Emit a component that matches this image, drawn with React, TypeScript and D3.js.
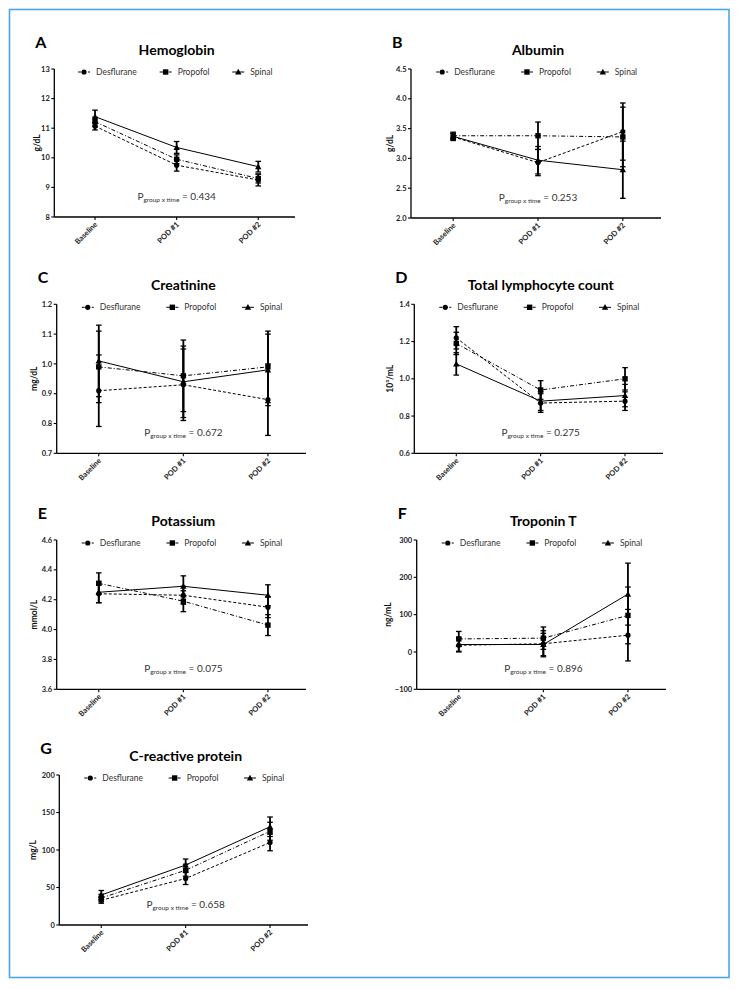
import React from "react";
import * as d3 from "d3";

const categories = ["Baseline", "POD #1", "POD #2"];
const groups = ["Desflurane", "Propofol", "Spinal"];

// Hemoglobin
const hgbDes = [11.07, 9.75, 9.25];
const hgbDesSd = [0.13, 0.2, 0.2];
const hgbPro = [11.22, 9.95, 9.3];
const hgbProSd = [0.15, 0.15, 0.15];
const hgbSpi = [11.39, 10.35, 9.7];
const hgbSpiSd = [0.22, 0.2, 0.18];
const hgbTicks = [8, 9, 10, 11, 12, 13];

// Albumin
const albDes = [3.36, 2.93, 3.45];
const albDesSd = [0.06, 0.22, 0.48];
const albPro = [3.38, 3.38, 3.36];
const albProSd = [0.06, 0.23, 0.5];
const albSpi = [3.37, 2.97, 2.81];
const albSpiSd = [0.05, 0.23, 0.48];
const albTicks = [2.0, 2.5, 3.0, 3.5, 4.0, 4.5];

// Creatinine
const creDes = [0.91, 0.93, 0.88];
const creDesSd = [0.12, 0.12, 0.12];
const crePro = [0.99, 0.96, 0.99];
const creProSd = [0.12, 0.12, 0.12];
const creSpi = [1.01, 0.94, 0.98];
const creSpiSd = [0.12, 0.12, 0.12];
const creTicks = [0.7, 0.8, 0.9, 1.0, 1.1, 1.2];

// Total lymphocyte count
const lymDes = [1.22, 0.87, 0.88];
const lymDesSd = [0.06, 0.05, 0.05];
const lymPro = [1.19, 0.94, 1.0];
const lymProSd = [0.06, 0.05, 0.06];
const lymSpi = [1.08, 0.88, 0.91];
const lymSpiSd = [0.06, 0.05, 0.06];
const lymTicks = [0.6, 0.8, 1.0, 1.2, 1.4];

// Potassium
const potDes = [4.24, 4.23, 4.15];
const potDesSd = [0.06, 0.06, 0.07];
const potPro = [4.31, 4.19, 4.03];
const potProSd = [0.07, 0.07, 0.07];
const potSpi = [4.25, 4.29, 4.23];
const potSpiSd = [0.07, 0.07, 0.07];
const potTicks = [3.6, 3.8, 4.0, 4.2, 4.4, 4.6];

// Troponin T
const troDes = [18, 22, 45];
const troDesSd = [18, 35, 69];
const troPro = [35, 37, 98];
const troProSd = [20, 30, 76];
const troSpi = [20, 20, 155];
const troSpiSd = [18, 30, 83];
const troTicks = [-100, 0, 100, 200, 300];

// C-reactive protein
const crpDes = [33, 62, 110];
const crpDesSd = [4, 8, 11];
const crpPro = [36, 73, 125];
const crpProSd = [5, 8, 12];
const crpSpi = [40, 80, 131];
const crpSpiSd = [6, 8, 13];
const crpTicks = [0, 50, 100, 150, 200];

const panels = [
  { letter: "A", title: "Hemoglobin", ylabel: "g/dL", p: "0.434", ticks: hgbTicks, fmt: "d",
    series: [[hgbDes, hgbDesSd], [hgbPro, hgbProSd], [hgbSpi, hgbSpiSd]] },
  { letter: "B", title: "Albumin", ylabel: "g/dL", p: "0.253", ticks: albTicks, fmt: ".1f",
    series: [[albDes, albDesSd], [albPro, albProSd], [albSpi, albSpiSd]] },
  { letter: "C", title: "Creatinine", ylabel: "mg/dL", p: "0.672", ticks: creTicks, fmt: ".1f",
    series: [[creDes, creDesSd], [crePro, creProSd], [creSpi, creSpiSd]] },
  { letter: "D", title: "Total lymphocyte count", ylabel: "10³/mL", p: "0.275", ticks: lymTicks, fmt: ".1f",
    series: [[lymDes, lymDesSd], [lymPro, lymProSd], [lymSpi, lymSpiSd]] },
  { letter: "E", title: "Potassium", ylabel: "mmol/L", p: "0.075", ticks: potTicks, fmt: ".1f",
    series: [[potDes, potDesSd], [potPro, potProSd], [potSpi, potSpiSd]] },
  { letter: "F", title: "Troponin T", ylabel: "ng/mL", p: "0.896", ticks: troTicks, fmt: "d",
    series: [[troDes, troDesSd], [troPro, troProSd], [troSpi, troSpiSd]] },
  { letter: "G", title: "C-reactive protein", ylabel: "mg/L", p: "0.658", ticks: crpTicks, fmt: "d",
    series: [[crpDes, crpDesSd], [crpPro, crpProSd], [crpSpi, crpSpiSd]] },
];

// layout (pixel frames for each panel)
const frames = [
  { x0: 54.3, x1: 295, yTop: 69, yBot: 217, labDx: -14 },
  { x0: 411, x1: 661, yTop: 69, yBot: 218, labDx: -18 },
  { x0: 56.7, x1: 306, yTop: 304.3, yBot: 453.3, labDx: -20 },
  { x0: 414.3, x1: 663, yTop: 304.3, yBot: 453.3, labDx: -21 },
  { x0: 56.7, x1: 306, yTop: 540, yBot: 689.3, labDx: -20 },
  { x0: 416.7, x1: 666, yTop: 540, yBot: 689.3, labDx: -26 },
  { x0: 59.3, x1: 308, yTop: 775, yBot: 925, labDx: -23 },
];

const dashes = ["3,2", "4,2,1,2", null];
const FONT = "Lato, 'Open Sans', Arial, sans-serif";

function Marker({ type, x, y }) {
  if (type === 0) return <circle cx={x} cy={y} r={2.6} fill="#000" />;
  if (type === 1) return <rect x={x - 2.7} y={y - 2.7} width={5.4} height={5.4} fill="#000" />;
  const s = 3.2;
  return <path d={`M${x},${y - s}L${x + s},${y + s * 0.8}L${x - s},${y + s * 0.8}Z`} fill="#000" />;
}

function Panel({ panel, frame }) {
  const { x0, x1, yTop, yBot, labDx } = frame;
  const x = d3.scalePoint().domain(categories).range([x0 + 4, x1]).padding(0.45);
  const ext = d3.extent(panel.ticks);
  const y = d3.scaleLinear().domain(ext).range([yBot, yTop]);
  const fmt = d3.format(panel.fmt);
  const line = d3.line<number>().x((_, i) => x(categories[i])!).y((v) => y(v));
  const mid = x(categories[1])!;
  const legOff = [-11, -11, -20];

  return (
    <g>
      <text x={x0 - 19} y={yTop - 21.5} fontFamily={FONT} fontWeight={700} fontSize={16} fill="#000">
        {panel.letter}
      </text>
      <text x={mid} y={yTop - 14.5} textAnchor="middle" fontFamily={FONT} fontWeight={700} fontSize={14} fill="#000">
        {panel.title}
      </text>
      {/* axes */}
      <line x1={x0} x2={x0} y1={yTop} y2={yBot} stroke="#000" strokeWidth={1.3} />
      <line x1={x0} x2={x1} y1={yBot} y2={yBot} stroke="#000" strokeWidth={1.3} />
      {panel.ticks.map((t) => (
        <g key={t}>
          <line x1={x0 - 3} x2={x0} y1={y(t)} y2={y(t)} stroke="#000" strokeWidth={1.1} />
          <text x={x0 - 4.5} y={y(t)} dy="0.35em" textAnchor="end" fontFamily={FONT} fontWeight={700} fontSize={7.5} fill="#222">
            {fmt(t)}
          </text>
        </g>
      ))}
      {categories.map((c) => (
        <g key={c}>
          <line x1={x(c)} x2={x(c)} y1={yBot} y2={yBot + 3} stroke="#000" strokeWidth={1.1} />
          <text
            transform={`translate(${x(c)! + 1},${yBot + 6}) rotate(-45)`}
            textAnchor="end"
            dy="0.35em"
            fontFamily={FONT}
            fontWeight={700}
            fontSize={7.5}
            fill="#222"
          >
            {c}
          </text>
        </g>
      ))}
      <text
        transform={`translate(${x0 + labDx},${(yTop + yBot) / 2}) rotate(-90)`}
        textAnchor="middle"
        fontFamily={FONT}
        fontWeight={700}
        fontSize={8.5}
        fill="#111"
      >
        {panel.ylabel}
      </text>
      {/* legend */}
      {groups.map((g, gi) => {
        const lx = x(categories[gi])! + legOff[gi];
        const ly = yTop + 3;
        return (
          <g key={g}>
            <line x1={lx - 6} x2={lx + 6} y1={ly} y2={ly} stroke="#000" strokeWidth={1} strokeDasharray={dashes[gi] ?? undefined} />
            <Marker type={gi} x={lx} y={ly} />
            <text x={lx + 12} y={ly} dy="0.35em" fontFamily={FONT} fontSize={8.5} fill="#333">
              {g}
            </text>
          </g>
        );
      })}
      {/* series */}
      {panel.series.map(([vals, sds], gi) => (
        <g key={gi}>
          <path d={line(vals)!} fill="none" stroke="#000" strokeWidth={1} strokeDasharray={dashes[gi] ?? undefined} />
          {vals.map((v, i) => {
            const cx = x(categories[i])!;
            const hi = y(v + sds[i]);
            const lo = y(v - sds[i]);
            return (
              <g key={i}>
                <line x1={cx} x2={cx} y1={hi} y2={lo} stroke="#000" strokeWidth={1.8} />
                <line x1={cx - 2.8} x2={cx + 2.8} y1={hi} y2={hi} stroke="#000" strokeWidth={1.3} />
                <line x1={cx - 2.8} x2={cx + 2.8} y1={lo} y2={lo} stroke="#000" strokeWidth={1.3} />
                <Marker type={gi} x={cx} y={y(v)} />
              </g>
            );
          })}
        </g>
      ))}
      {/* p value */}
      <text x={mid} y={yBot - 17.5} textAnchor="middle" fontFamily={FONT} fontSize={10} fill="#333">
        P<tspan fontSize={6.5} dy={2}>group x time</tspan>
        <tspan dy={-2}> = {panel.p}</tspan>
      </text>
    </g>
  );
}

export default function App() {
  return (
    <div style={{ position: "absolute", left: 0, top: 0 }}>
      <svg width={741} height={989} style={{ display: "block", background: "#fff" }}>
        <rect x={0} y={0} width={741} height={989} fill="#fff" />
        <rect x={9.5} y={9.5} width={719.5} height={968} fill="none" stroke="#4aa8e6" strokeWidth={1.6} />
        {panels.map((p, i) => (
          <Panel key={p.letter} panel={p} frame={frames[i]} />
        ))}
      </svg>
    </div>
  );
}
